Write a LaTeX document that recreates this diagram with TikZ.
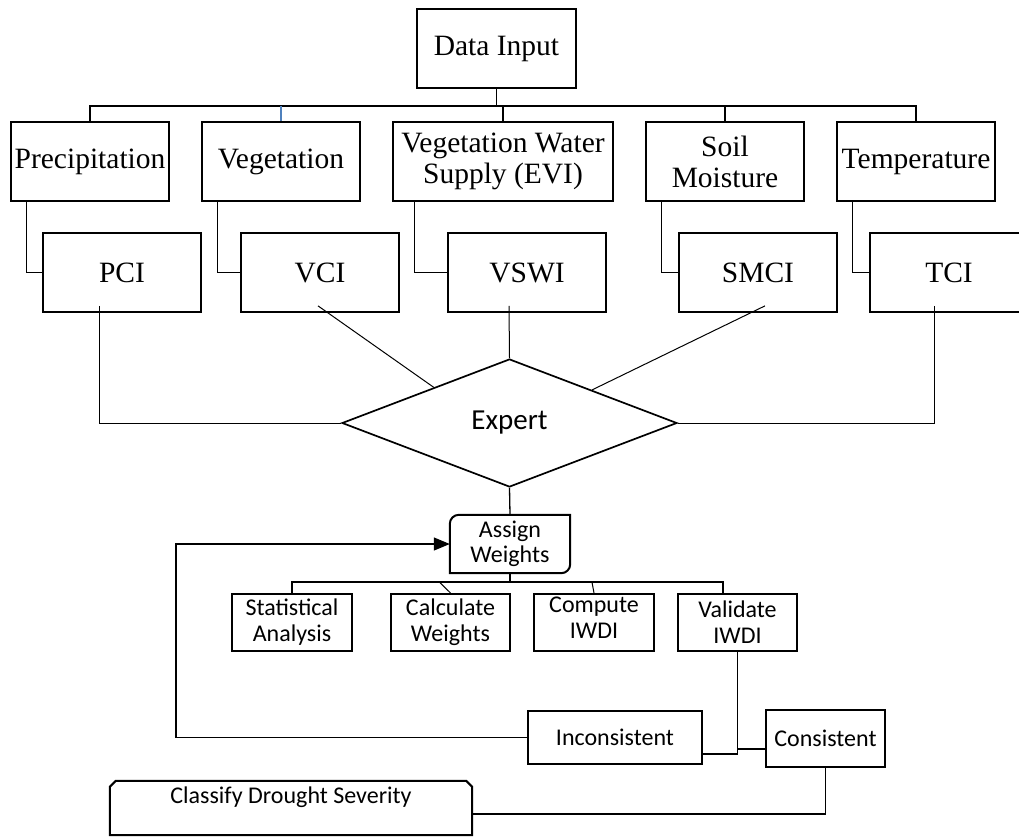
\documentclass[tikz,border=0pt]{standalone}
\usepackage{fontspec}
\setmainfont{Liberation Serif}
\newfontfamily\calibri{Carlito}
\usepackage{tikz}
\usetikzlibrary{shapes.geometric, arrows.meta, positioning, calc}
\definecolor{azulLinea}{RGB}{79,129,189}

\begin{document}
\begin{tikzpicture}[
  x=1pt, y=-1pt,
  varbox/.style={rectangle, draw, line width=1.7pt, minimum height=79pt,
                 minimum width=158pt, inner sep=0pt, align=center,
                 font=\fontsize{29.5}{31}\selectfont},
  idxbox/.style={varbox},
  stepbox/.style={rectangle, draw, line width=2pt, minimum height=57pt,
                  minimum width=120pt, inner sep=0pt, align=center,
                  font=\calibri\fontsize{24}{26}\selectfont},
  decision/.style={diamond, draw, line width=1.7pt, aspect=2.62,
                   minimum width=335pt, minimum height=128pt, inner sep=0pt,
                   font=\calibri\fontsize{29}{30}\selectfont},
  conn/.style={line width=1.3pt},
  thinconn/.style={line width=1pt},
  fbarrow/.style={line width=1.2pt, -{Triangle[length=16pt,width=13pt]}}
]
  \useasboundingbox (0,0) rectangle (1019,836);

  % Entrada de datos
  \node[varbox, minimum width=159pt] (datain) at (496.5,48.5) {Data Input};

  % Variables (primera fila)
  \node[varbox] (prec) at (90,161.5) {Precipitation};
  \node[varbox] (veg) at (281,161.5) {Vegetation};
  \node[varbox, minimum width=220pt] (vws) at (503,161.5) {Vegetation Water\\Supply (EVI)};
  \node[varbox] (soil) at (725,161.5) {Soil\\Moisture};
  \node[varbox] (temp) at (916,161.5) {Temperature};

  \coordinate (dbus) at ($(datain.south)+(0,17)$);
  \draw[conn] (datain.south) -- (dbus);
  \draw[conn] (dbus) -| (prec.north);
  \draw[conn] (dbus) -- (dbus -| veg.north);
  \draw[conn, azulLinea] (dbus -| veg.north) -- (veg.north);
  \draw[conn] (dbus) -| (vws.north);
  \draw[conn] (dbus) -| (soil.north);
  \draw[conn] (dbus) -| (temp.north);

  % Indices (segunda fila)
  \node[idxbox] (pci) at (122,272.5) {PCI};
  \node[idxbox] (vci) at (320,272.5) {VCI};
  \node[idxbox] (vswi) at (527,272.5) {VSWI};
  \node[idxbox] (smci) at (758,272.5) {SMCI};
  \node[idxbox] (tci) at (949,272.5) {TCI};

  \draw[conn] ([xshift=16pt]prec.south west) |- (pci.west);
  \draw[conn] ([xshift=16pt]veg.south west) |- (vci.west);
  \draw[conn] ([xshift=22pt]vws.south west) |- (vswi.west);
  \draw[conn] ([xshift=16pt]soil.south west) |- (smci.west);
  \draw[conn] ([xshift=16pt]temp.south west) |- (tci.west);

  % Experto
  \node[decision] (expert) at (509.5,423) {Expert};

  \draw[thinconn] ([xshift=-23pt,yshift=7pt]pci.south) |- (expert.west);
  \draw[thinconn] ([xshift=-2pt,yshift=7pt]vci.south) -- ($(expert.west)!0.55!(expert.north)$);
  \draw[thinconn] ([xshift=-18pt,yshift=7pt]vswi.south) -- (expert.north);
  \draw[thinconn] ([xshift=7pt,yshift=7pt]smci.south) -- ($(expert.north)!0.49!(expert.east)$);
  \draw[thinconn] ([xshift=-15pt,yshift=7pt]tci.south) |- (expert.east);

  % Pesos
  \node[inner sep=0pt, minimum width=120pt, minimum height=58pt, align=center,
        font=\calibri\fontsize{24}{25}\selectfont] (aw) at (510,544) {Assign\\Weights};
  \draw[line width=2pt] (aw.south west) -- ([yshift=-9pt]aw.north west)
    arc[start angle=180, end angle=90, radius=9pt] -- (aw.north east)
    -- ([yshift=9pt]aw.south east) arc[start angle=0, end angle=-90, radius=9pt] -- cycle;
  \draw[conn] (expert.south) -- (aw.north);

  \node[stepbox] (stat) at (292,622.5) {Statistical\\Analysis};
  \node[stepbox, minimum width=119pt] (calcw) at (450.5,622.5) {Calculate\\Weights};
  \node[stepbox, text depth=10pt] (compute) at (594,622.5) {Compute\\IWDI};
  \node[stepbox, minimum width=119pt] (valid) at (737.5,622.5) {Validate\\IWDI};

  \coordinate (wbus) at ($(aw.south)+(0,9)$);
  \draw[line width=1.7pt] (aw.south) -- (wbus);
  \draw[line width=1.7pt] (wbus) -| (stat.north);
  \draw[line width=1.7pt] (wbus) -| ([xshift=-14.5pt]valid.north);
  \draw[thinconn] ([xshift=-11pt]wbus -| calcw.north) -- (calcw.north);
  \draw[thinconn] ([xshift=-2pt]wbus -| compute.north) -- (compute.north);

  % Validacion
  \node[stepbox, minimum width=174pt, minimum height=53pt] (incons) at (615,737.5) {Inconsistent};
  \node[stepbox, minimum width=119pt] (cons) at (825.5,738.5) {Consistent};

  \coordinate (vjoin) at (valid.south |- {$(incons.south east)+(0,-11)$});
  \draw[line width=1.4pt] (valid.south) -- (vjoin);
  \draw[line width=2pt] ([yshift=11pt]incons.south east) -- (vjoin);
  \draw[line width=1.6pt] ([yshift=5pt]vjoin) -- ([yshift=5pt]vjoin -| cons.west);

  \coordinate (fbcorner) at (176,0);
  \draw[fbarrow] (incons.west) -| (fbcorner |- aw.west) -- (aw.west);

  % Clasificacion
  \node[inner ysep=4pt, inner xsep=0pt, minimum width=362pt, text height=18pt,
        text depth=28pt, font=\calibri\fontsize{24}{26}\selectfont] (cds) at (291,808)
        {Classify Drought Severity};
  \draw[line width=2pt] (cds.south west) -- ([yshift=-6pt]cds.north west)
    -- ([xshift=6pt]cds.north west) -- ([xshift=-6pt]cds.north east)
    -- ([yshift=-6pt]cds.north east) -- (cds.south east) -- cycle;
  \draw[conn] (cons.south) |- ([yshift=-6pt]cds.east);
\end{tikzpicture}
\end{document}
